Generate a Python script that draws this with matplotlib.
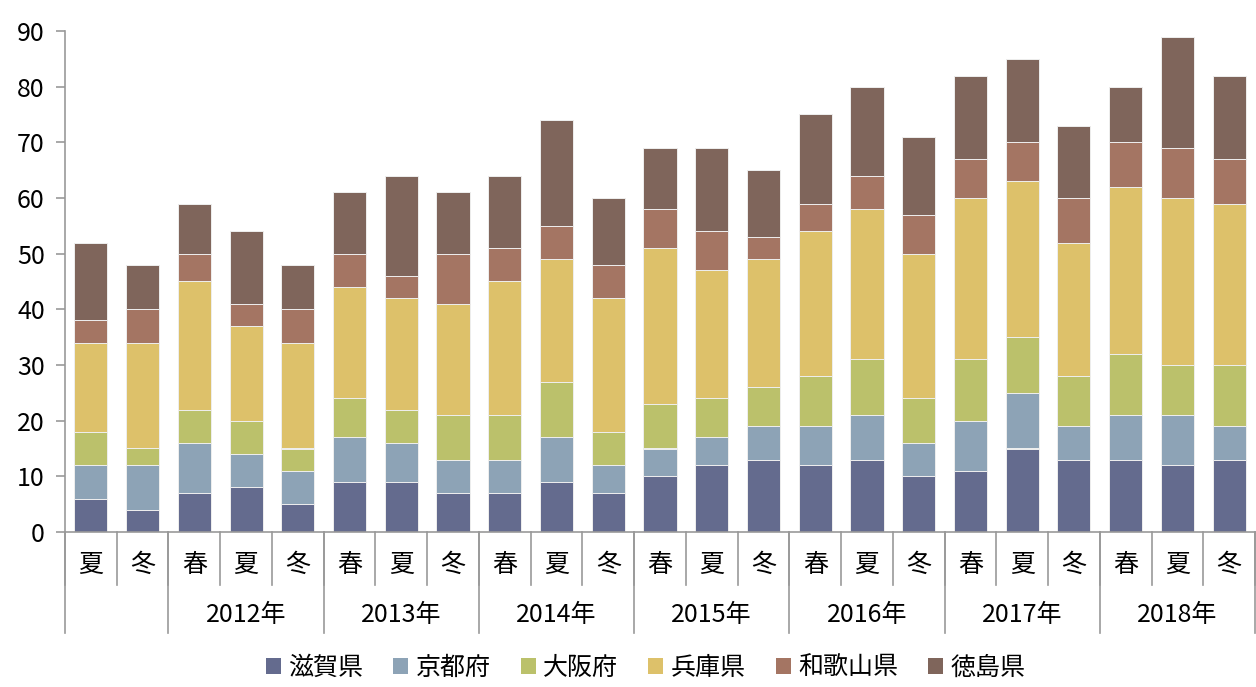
import numpy as np
import matplotlib.pyplot as plt
from matplotlib.patches import Patch

plt.rcParams['font.family'] = ['Noto Sans CJK JP', 'DejaVu Sans']

seasons = ['夏', '冬',
           '春', '夏', '冬', '春', '夏', '冬', '春', '夏', '冬',
           '春', '夏', '冬', '春', '夏', '冬', '春', '夏', '冬',
           '春', '夏', '冬']
years = ['', '2012年', '2013年', '2014年', '2015年', '2016年', '2017年', '2018年']
year_sizes = [2, 3, 3, 3, 3, 3, 3, 3]

shiga = [6, 4, 7, 8, 5, 9, 9, 7, 7, 9, 7, 10, 12, 13, 12, 13, 10, 11, 15, 13, 13, 12, 13]
kyoto = [6, 8, 9, 6, 6, 8, 7, 6, 6, 8, 5, 5, 5, 6, 7, 8, 6, 9, 10, 6, 8, 9, 6]
osaka = [6, 3, 6, 6, 4, 7, 6, 8, 8, 10, 6, 8, 7, 7, 9, 10, 8, 11, 10, 9, 11, 9, 11]
hyogo = [16, 19, 23, 17, 19, 20, 20, 20, 24, 22, 24, 28, 23, 23, 26, 27, 26, 29, 28, 24, 30, 30, 29]
wakayama = [4, 6, 5, 4, 6, 6, 4, 9, 6, 6, 6, 7, 7, 4, 5, 6, 7, 7, 7, 8, 8, 9, 8]
tokushima = [14, 8, 9, 13, 8, 11, 18, 11, 13, 19, 12, 11, 15, 12, 16, 16, 14, 15, 15, 13, 10, 20, 15]

series = [shiga, kyoto, osaka, hyogo, wakayama, tokushima]
names = ['滋賀県', '京都府', '大阪府', '兵庫県', '和歌山県', '徳島県']
colors = ['#646B8E', '#8DA3B6', '#BBC16B', '#DDC16A', '#A47563', '#7F655B']

fig = plt.figure(figsize=(12.56, 6.87), dpi=100)
ax = fig.add_axes([65/1256, 1-532/687, 1190/1256, 501/687])

x = np.arange(len(seasons))
bottom = np.zeros(len(seasons))
for vals, c in zip(series, colors):
    ax.bar(x, vals, 0.64, bottom=bottom, color=c, edgecolor='#eeeeee', linewidth=0.7)
    bottom += np.array(vals)

ax.set_xlim(-0.5, len(seasons) - 0.5)
ax.set_ylim(0, 90)
ax.set_yticks(range(0, 91, 10))
ax.tick_params(axis='y', labelsize=18, color='#999999', length=6.5, width=1.2, pad=8)
ax.set_xticks([])
for s in ['top', 'right']:
    ax.spines[s].set_visible(False)
for s in ['left', 'bottom']:
    ax.spines[s].set_color('#999999')
    ax.spines[s].set_linewidth(1.2)

# multi-level category axis
tr = ax.get_xaxis_transform()
for i, s in enumerate(seasons):
    ax.text(i, -0.066, s, transform=tr, ha='center', va='center', fontsize=18)
for i in range(len(seasons) + 1):
    ax.plot([i - 0.5, i - 0.5], [0, -0.106], transform=tr, color='#999999', lw=1.2, clip_on=False)

start = 0
for y, n in zip(years, year_sizes):
    ax.plot([start - 0.5, start - 0.5], [0, -0.202], transform=tr, color='#999999', lw=1.2, clip_on=False)
    ax.text(start + (n - 1) / 2, -0.166, y, transform=tr, ha='center', va='center', fontsize=18)
    start += n
ax.plot([start - 0.5, start - 0.5], [0, -0.202], transform=tr, color='#999999', lw=1.2, clip_on=False)

handles = [Patch(facecolor=c, edgecolor='none') for c in colors]
fig.legend(handles, names, loc='center', bbox_to_anchor=(0.514, 0.028), ncol=6, frameon=False,
           fontsize=18, handlelength=0.6, handleheight=0.6, handletextpad=0.3, columnspacing=1.2)

fig.savefig('out.png', dpi=100)
